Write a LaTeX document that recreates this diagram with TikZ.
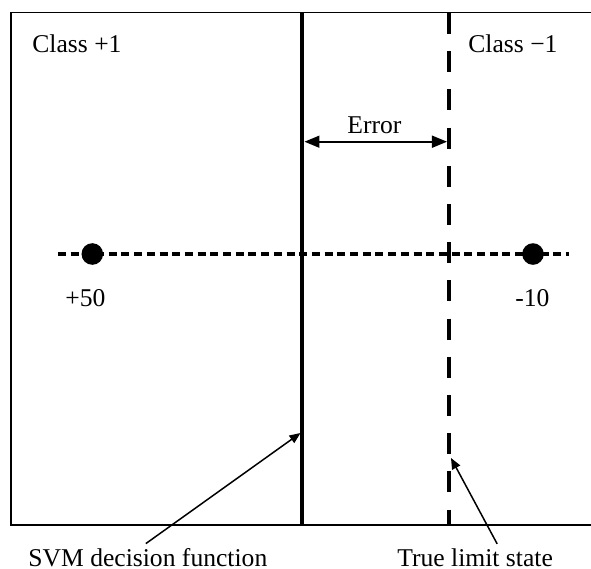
\documentclass[tikz,border=0pt]{standalone}
\usepackage{fontspec}
\setmainfont{Liberation Serif}
\usetikzlibrary{arrows.meta, positioning}

\tikzset{
  lbl/.style={inner sep=0pt, anchor=base west},
  boundary/.style={line width=2pt},
  truestate/.style={line width=2.3pt, dash pattern=on 10.5pt off 8.6pt},
  axisline/.style={line width=2pt, dash pattern=on 4pt off 2.35pt},
  sample/.style={circle, fill=black, inner sep=0pt, minimum size=10.8pt},
  pointer/.style={-{Triangle[length=5.5pt,width=4.5pt]}, line width=0.75pt},
}

\begin{document}
\begin{tikzpicture}[x=0.5pt,y=-0.5pt,>=Stealth,font=\fontsize{12.8}{15}\selectfont]
  \useasboundingbox (0,0) rectangle (591,569);
  % frame (right side runs off the page)
  \draw[line width=0.9pt] (591,12.5) -- (11,12.5) -- (11,525) -- (591,525);
  % decision function and true limit state
  \draw[boundary] (302.5,12.5) -- (302.5,525);
  \draw[truestate] (449,13) -- (449,525);
  % samples on the dashed axis
  \draw[axisline] (58,254) -- (569,254);
  \node[sample] (pplus) at (92.3,254) {};
  \node[sample] (pminus) at (533,254) {};
  \node[lbl] (vplus) at (65,306) {+50};
  \node[lbl] (vminus) at (515,306) {-10};
  % class labels
  \node[lbl] (cplus) at (32,52) {Class +1};
  \node[lbl] (cminus) at (468,52) {Class −1};
  % error band
  \coordinate (errl) at (304.5,141.7);
  \coordinate (errr) at (447,141.7);
  \draw[{Triangle[length=7.5pt,width=6pt]}-{Triangle[length=7.5pt,width=6pt]}, line width=0.8pt] (errl) -- (errr);
  \node[lbl] (err) at (347,133) {Error};
  % pointers
  \node[lbl] (svm) at (28,566) {SVM decision function};
  \node[lbl] (tls) at (397,566) {True limit state};
  \coordinate (svmtip) at (300.5,433);
  \coordinate (tlstip) at (451,458);
  \draw[pointer] ([shift={(-1pt,2pt)}]svm.north) -- (svmtip);
  \draw[pointer] ([shift={(11pt,2pt)}]tls.north) -- (tlstip);
\end{tikzpicture}
\end{document}
